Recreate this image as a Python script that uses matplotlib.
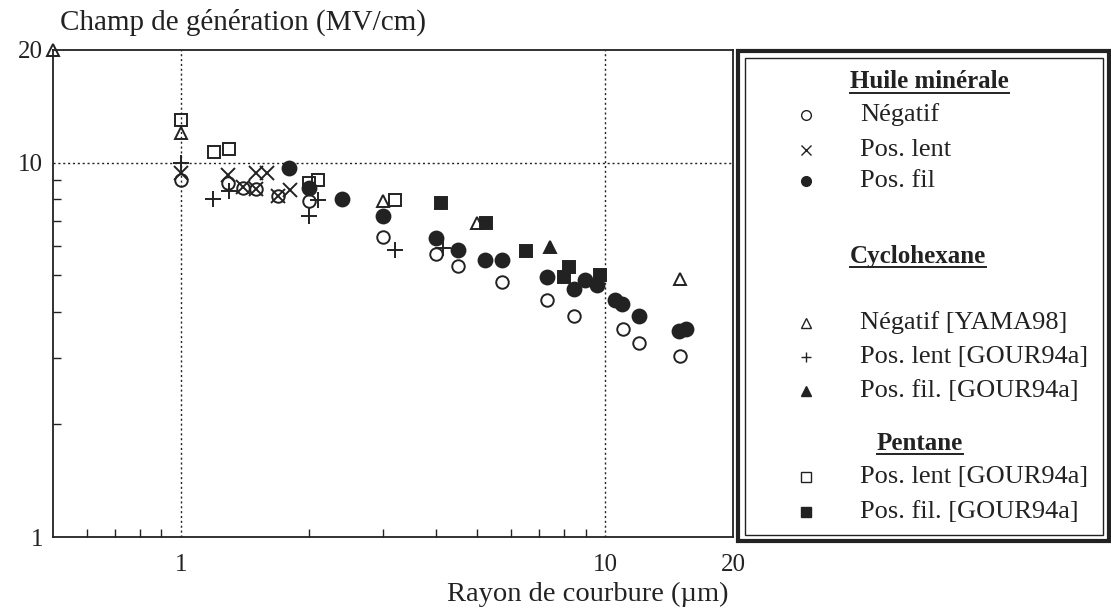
import matplotlib
matplotlib.use("Agg")
import matplotlib.pyplot as plt
from matplotlib.lines import Line2D
from matplotlib.patches import Rectangle
from matplotlib.ticker import FixedLocator, NullFormatter

plt.rcParams["font.family"] = ["Liberation Serif", "DejaVu Serif"]

# ── data (radius µm, field MV/cm) ────────────────────────────────────
# Huile minérale
huile_neg_x = [1.0, 1.29, 1.4, 1.5, 1.69, 2.0, 3.0, 4.0, 4.5, 5.7, 7.3, 8.45, 11.0, 12.0, 15.0]
huile_neg_y = [9.0, 8.8, 8.55, 8.5, 8.15, 7.9, 6.35, 5.7, 5.3, 4.8, 4.3, 3.9, 3.6, 3.3, 3.05]
huile_lent_x = [1.0, 1.29, 1.4, 1.5, 1.6, 1.5, 1.69, 1.81]
huile_lent_y = [9.4, 9.25, 8.6, 9.4, 9.4, 8.5, 8.15, 8.45]
huile_fil_x = [1.8, 2.0, 2.4, 3.0, 4.0, 4.5, 5.2, 5.7, 7.3, 8.45, 8.97, 9.58, 10.56, 10.93, 12.0, 14.9, 15.5]
huile_fil_y = [9.7, 8.55, 8.0, 7.2, 6.3, 5.85, 5.5, 5.5, 4.95, 4.6, 4.85, 4.7, 4.3, 4.2, 3.9, 3.55, 3.6]
# Cyclohexane
cyclo_neg_x = [0.5, 1.0, 3.0, 5.0, 15.0]
cyclo_neg_y = [20.0, 12.0, 7.9, 6.9, 4.9]
cyclo_lent_x = [1.0, 1.19, 1.3, 2.0, 2.1, 3.2, 4.15]
cyclo_lent_y = [10.0, 8.0, 8.4, 7.2, 7.95, 5.85, 5.9]
cyclo_fil_x = [7.4]
cyclo_fil_y = [5.95]
# Pentane
pent_lent_x = [1.0, 1.2, 1.3, 2.0, 2.1, 3.2]
pent_lent_y = [13.0, 10.7, 10.9, 8.8, 9.0, 7.95]
pent_fil_x = [4.1, 5.25, 6.5, 8.2, 8.0, 9.7]
pent_fil_y = [7.8, 6.9, 5.8, 5.25, 4.95, 5.0]

W, H = 1111, 611
fig = plt.figure(figsize=(W / 100, H / 100), dpi=100)
ax = fig.add_axes([53 / W, 1 - 537 / H, (733 - 53) / W, (537 - 50) / H])

ink = "#222222"
series = [
    (huile_neg_x, huile_neg_y, "o", "none", 9),
    (huile_lent_x, huile_lent_y, "x", ink, 10),
    (huile_fil_x, huile_fil_y, "o", ink, 10),
    (cyclo_neg_x, cyclo_neg_y, "^", "none", 9),
    (cyclo_lent_x, cyclo_lent_y, "+", ink, 11),
    (cyclo_fil_x, cyclo_fil_y, "^", ink, 9),
    (pent_lent_x, pent_lent_y, "s", "none", 9),
    (pent_fil_x, pent_fil_y, "s", ink, 9),
]
for xs, ys, m, fc, ms in series:
    ax.plot(xs, ys, linestyle="none", marker=m, markersize=ms,
            markerfacecolor=fc, markeredgecolor=ink, markeredgewidth=1.4,
            clip_on=False, zorder=3)

ax.set_xscale("log")
ax.set_yscale("log")
ax.set_xlim(0.5, 20)
ax.set_ylim(1, 20)

ax.xaxis.set_major_locator(FixedLocator([1, 10, 20]))
ax.xaxis.set_minor_locator(FixedLocator([0.6, 0.7, 0.8, 0.9, 2, 3, 4, 5, 6, 7, 8, 9]))
ax.set_xticklabels(["1", "10", "20"])
ax.xaxis.set_minor_formatter(NullFormatter())
ax.yaxis.set_major_locator(FixedLocator([1, 10, 20]))
ax.yaxis.set_minor_locator(FixedLocator([2, 3, 4, 5, 6, 7, 8, 9]))
ax.set_yticklabels(["1", "10", "20"])
ax.yaxis.set_minor_formatter(NullFormatter())

ax.tick_params(which="both", direction="in", colors=ink, labelsize=18, width=1)
ax.tick_params(which="major", length=0)
ax.tick_params(which="minor", length=6)
ax.tick_params(axis="x", which="major", pad=12)
ax.tick_params(axis="y", which="major", pad=7)

for v in [1, 10]:
    ax.axvline(v, color=ink, linestyle=(0, (1.5, 2)), linewidth=1, zorder=1)
ax.axhline(10, color=ink, linestyle=(0, (1.5, 2)), linewidth=1, zorder=1)

for s in ax.spines.values():
    s.set_color(ink)
    s.set_linewidth(1.3)

fig.text(60 / W, 1 - 22 / H, "Champ de génération (MV/cm)", fontsize=21,
         ha="left", va="center", color=ink)
fig.text(588 / W, 1 - 594 / H, "Rayon de courbure (µm)", fontsize=20.5,
         ha="center", va="center", color=ink)

# ── legend box (double frame) ────────────────────────────────────────
fig.patches.append(Rectangle((738 / W, 1 - 541 / H), (1109 - 738) / W, (541 - 51) / H,
                             transform=fig.transFigure, fill=False, edgecolor=ink, linewidth=3))
fig.patches.append(Rectangle((745 / W, 1 - 535 / H), (1103 - 745) / W, (535 - 58) / H,
                             transform=fig.transFigure, fill=False, edgecolor=ink, linewidth=1))

headers = [("Huile minérale", 850, 82), ("Cyclohexane", 850, 257), ("Pentane", 877, 443)]
entries = [
    ("Négatif", "o", "none", 115),
    ("Pos. lent", "x", ink, 150),
    ("Pos. fil", "o", ink, 181),
    ("Négatif [YAMA98]", "^", "none", 323),
    ("Pos. lent [GOUR94a]", "+", ink, 357),
    ("Pos. fil. [GOUR94a]", "^", ink, 391),
    ("Pos. lent [GOUR94a]", "s", "none", 477),
    ("Pos. fil. [GOUR94a]", "s", ink, 512),
]

head_texts = []
for label, px, py in headers:
    t = fig.text(px / W, 1 - py / H, label, fontsize=18, fontweight="bold",
                 ha="left", va="center", color=ink)
    head_texts.append(t)
for label, m, fc, py in entries:
    fig.lines.append(Line2D([806 / W], [1 - py / H], transform=fig.transFigure,
                            marker=m, markersize=7, markerfacecolor=fc,
                            markeredgecolor=ink, markeredgewidth=1, linestyle="none"))
    fig.text(860 / W, 1 - py / H, label, fontsize=19, ha="left", va="center", color=ink)

# underline the group headers
fig.canvas.draw()
renderer = fig.canvas.get_renderer()
for t in head_texts:
    bb = t.get_window_extent(renderer)
    yline = bb.y0 + 1
    fig.lines.append(Line2D([bb.x0 / W, bb.x1 / W], [yline / H, yline / H],
                            transform=fig.transFigure, color=ink, linewidth=1.4))

fig.savefig("out.png", dpi=100)
